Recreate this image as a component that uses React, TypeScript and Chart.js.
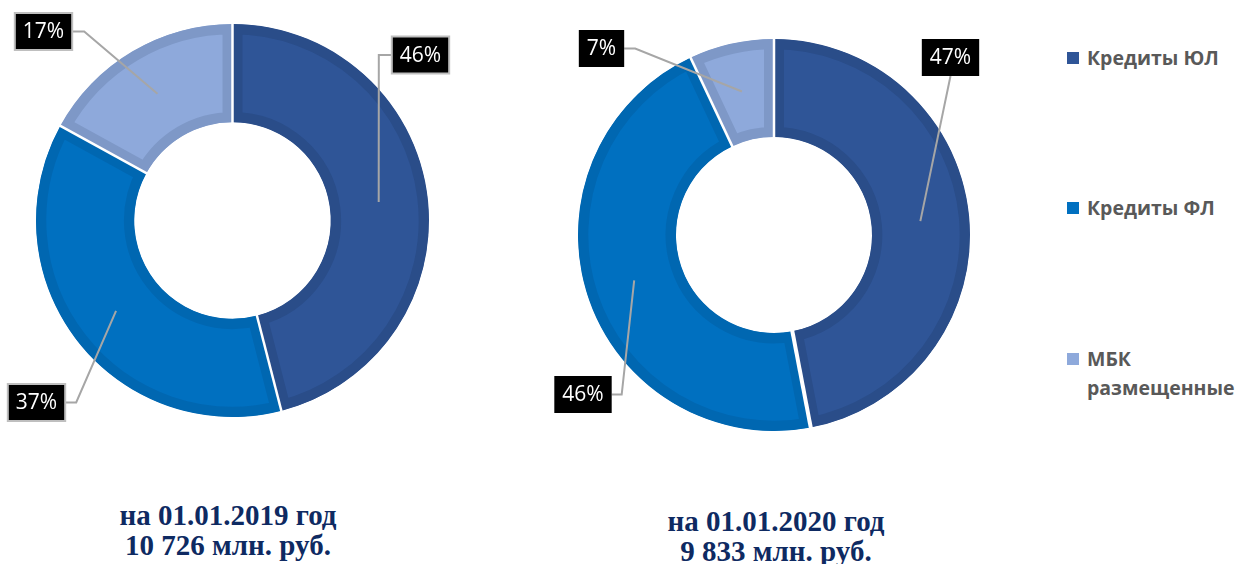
import React, { useEffect, useRef } from "react";
import { Chart, registerables } from "chart.js";

Chart.register(...registerables);

const categories = ["Кредиты ЮЛ", "Кредиты ФЛ", "МБК размещенные"];
const legendLines = [["Кредиты ЮЛ"], ["Кредиты ФЛ"], ["МБК", "размещенные"]];
const values2019 = [46, 37, 17];
const values2020 = [47, 46, 7];
const labels2019 = ["46%", "37%", "17%"];
const labels2020 = ["47%", "46%", "7%"];
const captions2019 = ["на 01.01.2019 год", "10 726 млн. руб."];
const captions2020 = ["на 01.01.2020 год", "9 833 млн. руб."];

const fillColors = ["#2F5597", "#0070C0", "#8EA9DB"];
const bandColors = ["#2A4D89", "#0067B1", "#7E98C7"];

type BoxSpec = { cx: number; cy: number; side: "left" | "right" | "bottom"; elbow: number };

const boxLabelPlugin = {
  id: "boxLabels",
  afterDatasetsDraw(chart: any, _args: any, opts: any) {
    const ctx = chart.ctx as CanvasRenderingContext2D;
    const meta = chart.getDatasetMeta(0);
    const texts: string[] = opts.texts;
    const boxes: BoxSpec[] = opts.boxes;
    const sepWidths: number[] = opts.sepWidths;
    ctx.save();
    // white separators between segments
    meta.data.forEach((arc: any, i: number) => {
      const p = arc.getProps(["x", "y", "startAngle", "innerRadius", "outerRadius"], true);
      ctx.strokeStyle = "#FFFFFF";
      ctx.lineWidth = sepWidths[i];
      ctx.beginPath();
      ctx.moveTo(p.x + Math.cos(p.startAngle) * (p.innerRadius - 2), p.y + Math.sin(p.startAngle) * (p.innerRadius - 2));
      ctx.lineTo(p.x + Math.cos(p.startAngle) * (p.outerRadius + 2), p.y + Math.sin(p.startAngle) * (p.outerRadius + 2));
      ctx.stroke();
    });
    ctx.font = "21px 'Open Sans', sans-serif";
    meta.data.forEach((arc: any, i: number) => {
      const p = arc.getProps(["x", "y", "startAngle", "endAngle", "innerRadius", "outerRadius"], true);
      const mid = (p.startAngle + p.endAngle) / 2;
      const r = (p.innerRadius + p.outerRadius) / 2;
      const ax = p.x + Math.cos(mid) * r;
      const ay = p.y + Math.sin(mid) * r;
      const b = boxes[i];
      const tw = ctx.measureText(texts[i]).width;
      const w = tw + 16;
      const h = 37;
      const left = b.cx - w / 2;
      const top = b.cy - h / 2;
      ctx.strokeStyle = "#A6A6A6";
      ctx.lineWidth = 2;
      ctx.beginPath();
      if (b.side === "right") {
        ctx.moveTo(left + w, b.cy);
        ctx.lineTo(left + w + b.elbow, b.cy);
      } else if (b.side === "left") {
        ctx.moveTo(left, b.cy);
        ctx.lineTo(left - b.elbow, b.cy);
      } else {
        ctx.moveTo(b.cx, top + h);
      }
      ctx.lineTo(ax, ay);
      ctx.stroke();
      ctx.fillStyle = "#000000";
      ctx.fillRect(left, top, w, h);
      if (opts.boxBorder) {
        ctx.strokeStyle = opts.boxBorder;
        ctx.lineWidth = 2;
        ctx.strokeRect(left, top, w, h);
      }
      ctx.fillStyle = "#FFFFFF";
      ctx.textAlign = "center";
      ctx.textBaseline = "middle";
      ctx.fillText(texts[i], b.cx, b.cy + 1);
    });
    ctx.restore();
  },
};

function Donut(props: {
  values: number[];
  texts: string[];
  boxes: BoxSpec[];
  padding: { left: number; right: number; top: number; bottom: number };
  sepWidths: number[];
  boxBorder: string | null;
  left: number;
  top: number;
  width: number;
  height: number;
}) {
  const ref = useRef<HTMLCanvasElement | null>(null);
  useEffect(() => {
    if (!ref.current) return;
    const chart = new Chart(ref.current, {
      type: "doughnut",
      data: {
        labels: categories,
        datasets: [
          {
            data: props.values,
            backgroundColor: fillColors,
            borderColor: bandColors,
            borderWidth: 10,
            borderAlign: "inner",
          } as any,
        ],
      },
      options: {
        animation: false,
        responsive: false,
        cutout: "50%",
        rotation: 0,
        layout: { padding: props.padding },
        plugins: {
          legend: { display: false },
          tooltip: { enabled: false },
          boxLabels: { texts: props.texts, boxes: props.boxes, boxBorder: props.boxBorder, sepWidths: props.sepWidths },
        } as any,
      },
      plugins: [boxLabelPlugin],
    });
    return () => chart.destroy();
  }, []);
  return (
    <canvas
      ref={ref}
      width={props.width}
      height={props.height}
      style={{ position: "absolute", left: props.left, top: props.top, width: props.width, height: props.height }}
    />
  );
}

const captionStyle: React.CSSProperties = {
  position: "absolute",
  fontFamily: "'Liberation Serif', 'Times New Roman', serif",
  fontWeight: 700,
  fontSize: 29,
  lineHeight: "30px",
  color: "#0E2A62",
  textAlign: "center",
  whiteSpace: "nowrap",
};

export default function App() {
  return (
    <div style={{ position: "absolute", left: 0, top: 0, width: 1242, height: 564, background: "#fff", overflow: "hidden" }}>
      <Donut
        values={values2019}
        texts={labels2019}
        boxes={[
          { cx: 420.5, cy: 55, side: "left", elbow: 13 },
          { cx: 36.5, cy: 402.5, side: "right", elbow: 11 },
          { cx: 43.5, cy: 31.5, side: "right", elbow: 12 },
        ]}
        padding={{ left: 36, right: 41, top: 24, bottom: 33 }}
        sepWidths={[2.5, 2.5, 2.5]}
        boxBorder="#BFBFBF"
        left={0}
        top={0}
        width={470}
        height={450}
      />
      <Donut
        values={values2020}
        texts={labels2020}
        boxes={[
          { cx: 420.5, cy: 57.5, side: "bottom", elbow: 0 },
          { cx: 53, cy: 394.5, side: "right", elbow: 10 },
          { cx: 71.5, cy: 48.5, side: "right", elbow: 11 },
        ]}
        padding={{ left: 48, right: 30, top: 39, bottom: 19 }}
        sepWidths={[2.5, 4, 2.5]}
        boxBorder={null}
        left={530}
        top={0}
        width={470}
        height={450}
      />
      {legendLines.map((lines, i) => (
        <div
          key={i}
          style={{
            position: "absolute",
            left: 1067,
            top: [43, 193, 344][i],
            fontFamily: "'Open Sans', sans-serif",
            fontWeight: 700,
            fontSize: 19.5,
            lineHeight: "29px",
            color: "#595959",
          }}
        >
          {lines.map((t, j) => (
            <div key={j} style={{ display: "flex", alignItems: "center", height: 29 }}>
              <span
                style={{
                  display: "inline-block",
                  width: 12,
                  height: 12,
                  background: j === 0 ? fillColors[i] : "transparent",
                  marginRight: 8,
                }}
              />
              <span>{t}</span>
            </div>
          ))}
        </div>
      ))}
      <div style={{ ...captionStyle, left: 28, width: 400, top: 500 }}>
        {captions2019.map((t, i) => (
          <div key={i}>{t}</div>
        ))}
      </div>
      <div style={{ ...captionStyle, left: 576, width: 400, top: 506 }}>
        {captions2020.map((t, i) => (
          <div key={i}>{t}</div>
        ))}
      </div>
    </div>
  );
}
